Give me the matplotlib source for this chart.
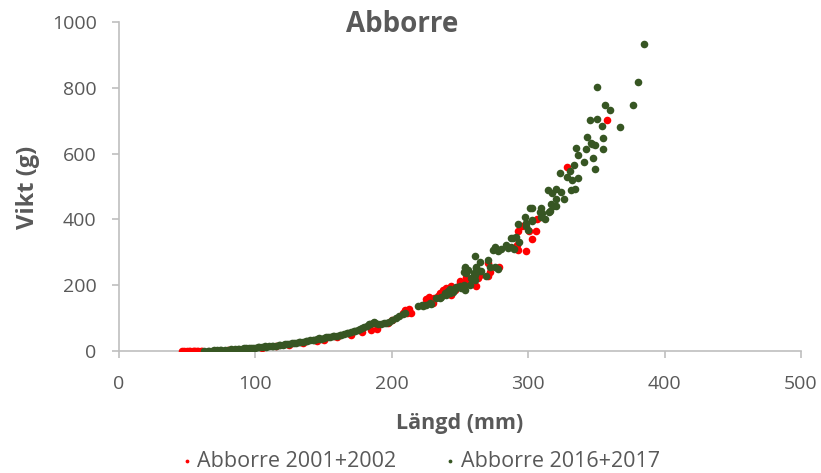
import matplotlib.pyplot as plt

plt.rcParams['font.family'] = ['Open Sans', 'DejaVu Sans']

TEXT = '#595959'
AXIS = '#BFBFBF'
RED = '#FF0000'
GREEN = '#375623'

# Abborre 2001+2002: length (mm), weight (g)
red_len = [46, 48, 50, 51, 52, 54, 55, 56, 57, 58, 60, 61,
           70, 80, 95, 105, 115, 125, 135, 145, 150, 160, 170, 178, 185, 189, 197, 200,
           208.3, 211.2, 214.4, 224.2, 230.3, 235.2, 237.6, 243.7, 246.2, 249.8, 253.4, 255.9,
           258.4, 262, 212.7, 209.5, 225.4, 226.6, 230.8, 227.4, 243.7, 239.5, 234.2, 249.8,
           254.7, 254.2, 261.8, 264.5, 263.2, 270.6, 272, 270.6, 278.6, 292.7, 300.6, 305.9,
           302.8, 292, 298.2, 292.7, 306.4, 295.2, 328.4, 358]
red_wt = [0, 0, 0, 1, 1, 1, 1, 1, 2, 2, 2, 2,
          2, 4, 8, 11, 15, 20, 26, 32, 35, 42, 50, 58, 65, 67, 87, 95,
          115, 117, 115, 143, 146, 176, 186, 171, 186, 207, 202, 212,
          217, 222, 128, 126, 158, 154, 163, 166, 199, 191, 168, 212,
          212, 225, 198, 232, 222, 229, 240, 267, 255, 364, 366, 366,
          340, 323, 305, 308, 400, 381, 558, 703]

# Abborre 2016+2017: length (mm), weight (g)
green_len = [62, 65, 68, 70, 72, 75, 78, 80, 83, 85, 88, 90, 93, 95, 98, 100, 103, 105, 108, 110,
             113, 115, 118, 120, 123, 125, 128, 130, 133, 135, 138, 140, 143, 145, 148, 150, 153, 155,
             158, 160, 163, 165, 168, 170, 173, 175, 178, 180, 182, 184, 186, 188, 190, 192, 194, 196,
             198, 200, 203, 205, 208, 210,
             66, 74, 82, 87, 92, 97, 102, 107, 112, 117, 122, 127, 132, 137, 142, 147, 152, 157, 162,
             167, 172, 177, 183, 187,
             219.3, 222.4, 225.3, 227.8, 235.2, 239.6, 242.5, 244.9, 251, 253.5, 257.2, 258.4, 254.7,
             253.5, 262, 260.8, 223, 228.4, 238.8, 236.4, 232.2, 249.8, 253, 247.4, 246.2, 242.5, 241.3,
             253.7, 252.7, 255.9, 261.5, 260.1, 263.7, 265.7, 269.4, 261.3, 258.6, 260.8, 265, 270.6,
             272.3, 276, 277.9, 284, 285.2, 287.7, 289.4, 276, 274.2, 277.9, 280.4, 288.6, 291.1, 293.3,
             292.6, 298.7, 302.5, 297.9, 309.2, 310.3, 312.1, 316.9, 318.2, 298.7, 299.6, 287.7,
             301.3, 302.8, 309.2, 320.6, 316.3, 315.3, 308.4, 303.0,
             314.5, 317.4, 320.6, 323.8, 331.6, 334.6, 320.6, 326.5, 323.6,
             384.6, 380.2, 350.7, 376.6, 356.5, 360.2, 345.5, 350.7, 354.3, 367.5, 343.4, 355.1, 345.8,
             346.8, 349.2, 335.3, 342.6, 355.1, 336.8, 347.8, 341.2, 333.8, 349.2, 330.9, 328.4, 336.8,
             332.4]
green_wt = [1, 2, 2, 3, 3, 4, 4, 5, 5, 6, 7, 8, 9, 9, 10, 11, 12, 13, 14, 15,
            16, 17, 19, 20, 21, 22, 24, 26, 27, 29, 31, 33, 35, 37, 38, 40, 42, 43,
            45, 47, 50, 52, 55, 58, 62, 65, 70, 74, 78, 82, 85, 86, 84, 83, 86, 85,
            90, 95, 102, 106, 112, 117,
            2, 4, 6, 7, 9, 11, 13, 15, 17, 19, 22, 25, 28, 32, 35, 39, 42, 46, 50,
            55, 61, 69, 84, 88,
            136, 141, 141, 146, 161, 171, 176, 181, 191, 186, 202, 222, 237,
            252, 257, 232, 136, 143, 178, 166, 161, 198, 202, 195, 190, 188, 184,
            255, 242, 247, 252, 237, 245, 245, 227, 217, 219, 288, 272, 278,
            257, 257, 251, 323, 313, 318, 310, 316, 308, 303, 310, 343, 348, 331,
            387, 389, 396, 409, 409, 419, 401, 447, 440, 379, 369, 344,
            436, 436, 436, 442, 427, 424, 423, 399,
            488, 479, 494, 483, 488, 491, 462, 462, 540,
            933, 816, 802, 746, 746, 732, 703, 706, 683, 680, 651, 648, 633,
            630, 627, 616, 613, 613, 596, 588, 575, 564, 552, 546, 529, 526,
            520]

x_ticks = [0, 100, 200, 300, 400, 500]
y_ticks = [0, 200, 400, 600, 800, 1000]

fig = plt.figure(figsize=(8.21, 4.73), dpi=100)
ax = fig.add_axes([0.1449, 0.2573, 0.8307, 0.6967])

ax.scatter(red_len, red_wt, s=30, color=RED, linewidths=0, label='Abborre 2001+2002', zorder=2)
ax.scatter(green_len, green_wt, s=30, color=GREEN, linewidths=0, label='Abborre 2016+2017', zorder=3)

ax.set_xlim(0, 500)
ax.set_ylim(0, 1000)
ax.set_xticks(x_ticks)
ax.set_yticks(y_ticks)

for side in ['top', 'right']:
    ax.spines[side].set_visible(False)
for side in ['left', 'bottom']:
    ax.spines[side].set_color(AXIS)
    ax.spines[side].set_linewidth(1.2)
    ax.spines[side].set_zorder(1)

ax.tick_params(axis='both', direction='out', length=5, width=1.2, color=AXIS,
               labelcolor=TEXT, labelsize=14)
ax.tick_params(axis='y', pad=11)
ax.tick_params(axis='x', pad=12)

fig.text(402 / 821, 1 - 24 / 473, 'Abborre', ha='center', va='center',
         fontsize=20, fontweight='bold', color=TEXT)
fig.text(28 / 821, 1 - 187 / 473, 'Vikt (g)', ha='center', va='center', rotation=90,
         fontsize=17, fontweight='bold', color=TEXT)
fig.text(460 / 821, 1 - 423 / 473, 'Längd (mm)', ha='center', va='center',
         fontsize=15.5, fontweight='bold', color=TEXT)

leg = fig.legend(loc='center', bbox_to_anchor=(418 / 821, 1 - 461 / 473), ncol=2,
                 frameon=False, fontsize=15.5, markerscale=0.5, handletextpad=0.0,
                 columnspacing=2.0, handlelength=1.0)
for t in leg.get_texts():
    t.set_color(TEXT)

fig.savefig('out.png', dpi=100)
